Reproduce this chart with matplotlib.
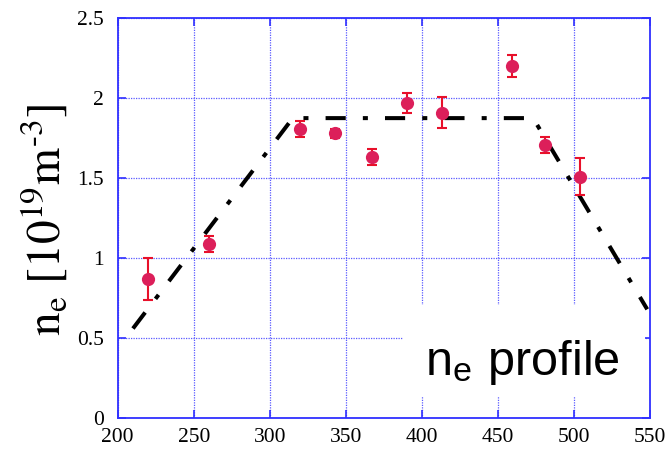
import matplotlib
matplotlib.use("Agg")
import matplotlib.pyplot as plt
from matplotlib.patches import Rectangle

# measured density points
pos = [220, 260, 320, 343, 367, 390, 413, 459, 481, 504]
ne = [0.87, 1.09, 1.81, 1.78, 1.63, 1.97, 1.91, 2.20, 1.71, 1.51]
err = [0.13, 0.05, 0.05, 0.03, 0.05, 0.065, 0.095, 0.07, 0.05, 0.115]

# model profile (dash-dot)
prof_x = [210, 315, 473, 548]
prof_y = [0.56, 1.875, 1.875, 0.68]

xticks = [200, 250, 300, 350, 400, 450, 500, 550]
yticks = [0, 0.5, 1, 1.5, 2, 2.5]
yticklabels = ["0", "0.5", "1", "1.5", "2", "2.5"]

plt.rcParams['mathtext.fontset'] = 'stix'
serif = ['Liberation Serif', 'DejaVu Serif']

fig = plt.figure(figsize=(6.69, 4.53), dpi=100)
ax = fig.add_axes([0.176, 0.077, 0.796, 0.883])

blue = '#3030ff'
ax.set_axisbelow(True)
ax.grid(True, color='#5a5aff', linestyle=(0, (1, 1)), linewidth=0.9)

# white box behind the label
ax.add_patch(Rectangle((0.536, 0.0525), 0.455, 0.23, transform=ax.transAxes,
                       facecolor='white', edgecolor='none', zorder=1))

ax.plot(prof_x, prof_y, color='black', linewidth=2.9,
        linestyle=(0, (5, 4.25, 1.25, 4.25)), zorder=2)

ax.errorbar(pos, ne, yerr=err, fmt='none', ecolor='#e8102a', elinewidth=1.5,
            capsize=3.5, capthick=1.5, zorder=3)
ax.plot(pos, ne, 'o', color='#dc1f5a', markersize=9.5, markeredgewidth=0, zorder=4)

ax.set_xlim(200, 550)
ax.set_ylim(0, 2.5)
ax.set_xticks(xticks)
ax.set_yticks(yticks)
ax.set_xticklabels([str(v) for v in xticks], family=serif, fontsize=15.5)
ax.set_yticklabels(yticklabels, family=serif, fontsize=15.5)
ax.tick_params(direction='in', length=6, width=1.2, color=blue,
               top=True, right=True)
ax.tick_params(axis='x', pad=7)
ax.tick_params(axis='y', pad=10)
for s in ax.spines.values():
    s.set_color(blue)
    s.set_linewidth(1.3)

fig.text(0.067, 0.515, '$\\mathrm{n_e\\ [10^{19}m^{\u20103}]}$', rotation=90,
         fontsize=34, ha='center', va='center')

ax.text(0.577, 0.1075, r'n$_\mathregular{e}$ profile', transform=ax.transAxes,
        family=['Liberation Sans', 'DejaVu Sans'], fontsize=35,
        ha='left', va='baseline', zorder=5)

fig.savefig('out.png', dpi=100)
